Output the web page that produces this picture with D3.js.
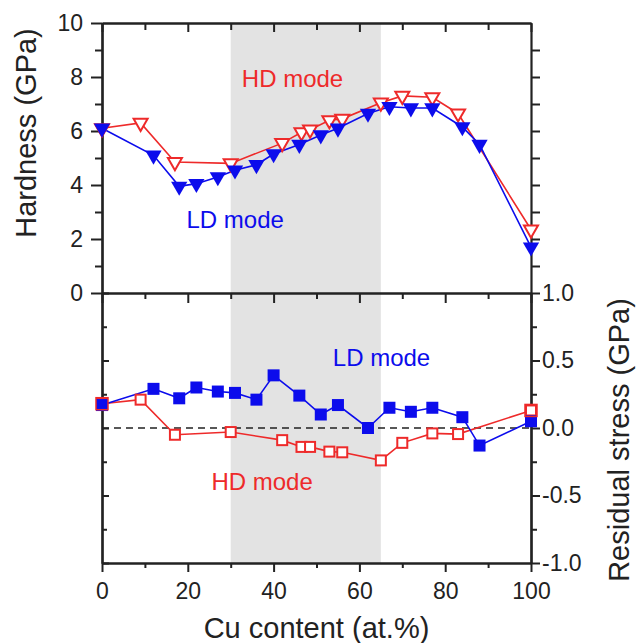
<!DOCTYPE html>
<html>
<head>
<meta charset="utf-8">
<script src="https://cdn.jsdelivr.net/npm/d3@7"></script>
<style>
  body { margin: 0; background: #fff; }
  text { font-family: "Liberation Sans", Arial, sans-serif; }
  .axis path, .axis line { stroke: #222; }
  .axis text { fill: #222; font-size: 23px; }
  .axis-label { fill: #222; font-size: 29px; }
</style>
</head>
<body>
<svg width="638" height="643"></svg>
<script>
// values
const cuHD = [0, 9, 17, 30, 42, 46.5, 48.5, 53, 56, 65, 70, 77, 83, 100];
const hardnessHD = [6.1, 6.3, 4.85, 4.8, 5.55, 5.95, 6.05, 6.4, 6.45, 7.05, 7.3, 7.25, 6.65, 2.35];
const stressHD = [0.18, 0.21, -0.05, -0.03, -0.09, -0.14, -0.14, -0.175, -0.18, -0.24, -0.11, -0.04, -0.045, 0.13];

const cuLD = [0, 12, 18, 22, 27, 31, 36, 40, 46, 51, 55, 62, 67, 72, 77, 84, 88, 100];
const hardnessLD = [6.1, 5.1, 3.95, 4.05, 4.3, 4.55, 4.75, 5.15, 5.5, 5.85, 6.1, 6.65, 6.9, 6.85, 6.85, 6.15, 5.5, 1.7];
const stressLD = [0.17, 0.29, 0.22, 0.30, 0.27, 0.26, 0.21, 0.39, 0.24, 0.10, 0.17, 0.0, 0.15, 0.12, 0.15, 0.08, -0.13, 0.05];

const shadedRange = [30, 65];

const xTicks = [0, 20, 40, 60, 80, 100];
const xMinorTicks = [10, 30, 50, 70, 90];
const hardnessTicks = [0, 2, 4, 6, 8, 10];
const hardnessMinorTicks = [1, 3, 5, 7, 9];
const stressTicks = [-1, -0.5, 0, 0.5, 1];
const stressMinorTicks = [-0.75, -0.25, 0.25, 0.75];

const xAxisLabel = 'Cu content (at.%)';
const yTopLabel = 'Hardness (GPa)';
const yBottomLabel = 'Residual stress (GPa)';

const red = '#ee2a2a';
const blue = '#0c0cec';

const svg = d3.select('svg');
const width = +svg.attr('width');
const height = +svg.attr('height');

const left = 102, right = 531;
const topY = 23, midY = 293, bottomY = 563;

const xScale = d3.scaleLinear().domain([0, 100]).range([left, right]);
const yHard = d3.scaleLinear().domain([0, 10]).range([midY, topY]);
const yStress = d3.scaleLinear().domain([-1, 1]).range([bottomY, midY]);

const hdRows = cuHD.map((c, i) => ({cu: c, h: hardnessHD[i], s: stressHD[i]}));
const ldRows = cuLD.map((c, i) => ({cu: c, h: hardnessLD[i], s: stressLD[i]}));

// grey band over both panels
svg.append('rect')
    .attr('x', xScale(shadedRange[0]))
    .attr('y', topY)
    .attr('width', xScale(shadedRange[1]) - xScale(shadedRange[0]))
    .attr('height', bottomY - topY)
    .attr('fill', '#e3e3e3');

// zero line in stress panel
svg.append('line')
    .attr('x1', left).attr('x2', right)
    .attr('y1', yStress(0)).attr('y2', yStress(0))
    .attr('stroke', '#222')
    .attr('stroke-width', 1.5)
    .attr('stroke-dasharray', '7,5');

// axes helper
const addAxis = (axis, tx, ty) => {
    const g = svg.append('g')
        .attr('class', 'axis')
        .attr('transform', `translate(${tx},${ty})`)
        .call(axis);
    g.select('.domain').attr('stroke-width', 2.2);
    g.selectAll('.tick line').attr('stroke-width', 2);
    return g;
};
const noLabel = () => '';

// x axes
addAxis(d3.axisBottom(xScale).tickValues(xTicks).tickSize(9).tickSizeOuter(0).tickFormat(noLabel), 0, topY);
addAxis(d3.axisBottom(xScale).tickValues(xMinorTicks).tickSize(7).tickSizeOuter(0).tickFormat(noLabel), 0, topY);
addAxis(d3.axisBottom(xScale).tickValues(xTicks).tickSize(10).tickSizeOuter(0).tickFormat(noLabel), 0, midY);
addAxis(d3.axisBottom(xScale).tickValues(xMinorTicks).tickSize(6).tickSizeOuter(0).tickFormat(noLabel), 0, midY);
addAxis(d3.axisBottom(xScale).tickValues(xTicks).tickSize(9).tickPadding(11).tickSizeOuter(0), 0, bottomY);
addAxis(d3.axisBottom(xScale).tickValues(xMinorTicks).tickSize(5).tickSizeOuter(0).tickFormat(noLabel), 0, bottomY);

// hardness axes
addAxis(d3.axisLeft(yHard).tickValues(hardnessTicks).tickSize(11).tickPadding(8).tickSizeOuter(0), left, 0);
addAxis(d3.axisLeft(yHard).tickValues(hardnessMinorTicks).tickSize(7).tickSizeOuter(0).tickFormat(noLabel), left, 0);
addAxis(d3.axisLeft(yHard).tickValues(d3.range(1, 10)).tickSize(-9).tickSizeOuter(0).tickFormat(noLabel), right, 0);

// stress axes
addAxis(d3.axisRight(yStress).tickValues(stressTicks).tickSize(7).tickSizeOuter(0).tickFormat(noLabel), left, 0);
addAxis(d3.axisRight(yStress).tickValues(stressMinorTicks).tickSize(5).tickSizeOuter(0).tickFormat(noLabel), left, 0);
addAxis(d3.axisRight(yStress).tickValues(stressTicks).tickSize(9).tickPadding(2).tickSizeOuter(0)
    .tickFormat(d => d.toFixed(1)), right, 0);
addAxis(d3.axisRight(yStress).tickValues(stressMinorTicks).tickSize(6).tickSizeOuter(0).tickFormat(noLabel), right, 0);

// axis titles
svg.append('text')
    .attr('class', 'axis-label')
    .attr('x', xScale(50))
    .attr('y', 638)
    .attr('text-anchor', 'middle')
    .text(xAxisLabel);

svg.append('text')
    .attr('class', 'axis-label')
    .attr('transform', `translate(36, 133) rotate(-90)`)
    .attr('text-anchor', 'middle')
    .text(yTopLabel);

svg.append('text')
    .attr('class', 'axis-label')
    .attr('transform', `translate(629, 440) rotate(-90)`)
    .attr('text-anchor', 'middle')
    .text(yBottomLabel);

// series
const line = yFn => d3.line().x(d => xScale(d.cu)).y(yFn);
const triDown = d3.symbol().type(d3.symbolTriangle);

const drawLine = (rows, yFn, color) =>
    svg.append('path')
        .datum(rows)
        .attr('fill', 'none')
        .attr('stroke', color)
        .attr('stroke-width', 1.6)
        .attr('d', line(yFn));

// hardness panel
drawLine(hdRows, d => yHard(d.h), red);
drawLine(ldRows, d => yHard(d.h), blue);

svg.append('g').selectAll('path').data(hdRows)
    .enter().append('path')
        .attr('d', triDown.size(85)())
        .attr('transform', d => `translate(${xScale(d.cu)},${yHard(d.h)}) rotate(180)`)
        .attr('fill', '#fff')
        .attr('stroke', red)
        .attr('stroke-width', 2);

svg.append('g').selectAll('path').data(ldRows)
    .enter().append('path')
        .attr('d', triDown.size(115)())
        .attr('transform', d => `translate(${xScale(d.cu)},${yHard(d.h)}) rotate(180)`)
        .attr('fill', blue);

// stress panel
drawLine(hdRows, d => yStress(d.s), red);
drawLine(ldRows, d => yStress(d.s), blue);

svg.append('g').selectAll('rect').data(hdRows)
    .enter().append('rect')
        .attr('x', d => xScale(d.cu) - 5)
        .attr('y', d => yStress(d.s) - 5)
        .attr('width', 10)
        .attr('height', 10)
        .attr('fill', '#fff')
        .attr('stroke', red)
        .attr('stroke-width', 2);

svg.append('g').selectAll('rect').data(ldRows)
    .enter().append('rect')
        .attr('x', d => xScale(d.cu) - 6)
        .attr('y', d => yStress(d.s) - 6)
        .attr('width', 12)
        .attr('height', 12)
        .attr('fill', blue);

// outline pass so red boxes stay visible where they overlap blue
svg.append('g').selectAll('rect').data(hdRows.filter(d => d.cu === 0 || d.cu === 100))
    .enter().append('rect')
        .attr('x', d => xScale(d.cu) - 6)
        .attr('y', d => yStress(d.s) - 6)
        .attr('width', 12)
        .attr('height', 12)
        .attr('fill', 'none')
        .attr('stroke', red)
        .attr('stroke-width', 1.5);

// mode annotations
const notes = [
    {text: 'HD mode', cu: 32.6, h: 7.63, color: red},
    {text: 'LD mode', cu: 19.7, h: 2.4, color: blue}
];
const stressNotes = [
    {text: 'LD mode', cu: 53.8, s: 0.46, color: blue},
    {text: 'HD mode', cu: 25.5, s: -0.46, color: red}
];

svg.selectAll('.note').data(notes)
    .enter().append('text')
        .attr('class', 'note')
        .attr('x', d => xScale(d.cu))
        .attr('y', d => yHard(d.h))
        .attr('fill', d => d.color)
        .attr('font-size', 24)
        .text(d => d.text);

svg.selectAll('.snote').data(stressNotes)
    .enter().append('text')
        .attr('class', 'snote')
        .attr('x', d => xScale(d.cu))
        .attr('y', d => yStress(d.s))
        .attr('fill', d => d.color)
        .attr('font-size', 24)
        .text(d => d.text);
</script>
</body>
</html>
